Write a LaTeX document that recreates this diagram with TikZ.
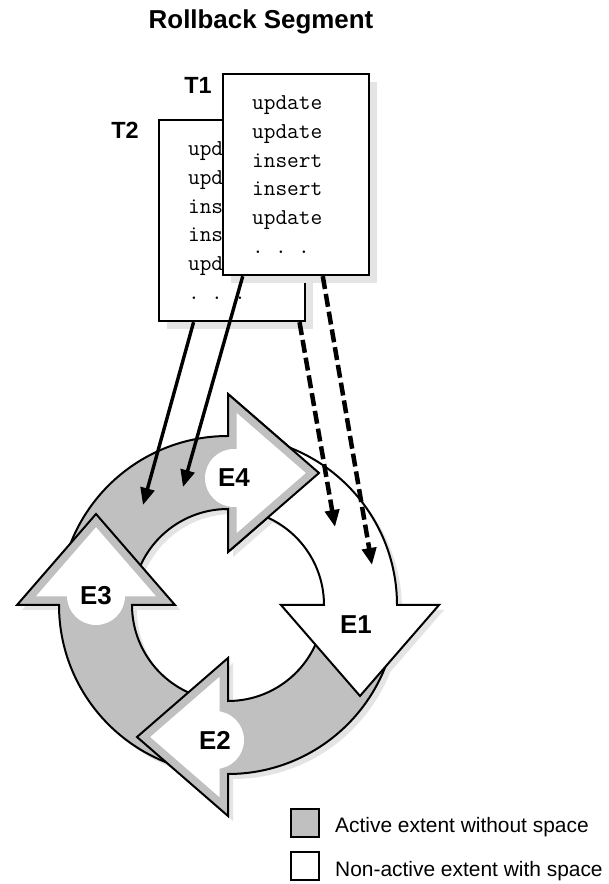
\documentclass[tikz,border=0pt]{standalone}
\usepackage{fontspec}
\setmainfont{Liberation Sans}
\usetikzlibrary{arrows.meta,shadows,calc}
\definecolor{bandgray}{HTML}{C0C0C0}
\definecolor{shadowgray}{HTML}{E4E4E4}
\def\ringRo{169}
\def\ringRi{96}
\def\ringRm{132}
\def\ringHo{211}
\def\ringHi{53}
\def\ringL{91}
\begin{document}
\begin{tikzpicture}[x=1bp,y=1bp,
  extentp/.style={insert path={(#1+85:\ringRo) arc[start angle=#1+85,end angle=#1,radius=\ringRo] -- (#1:\ringHo) -- ({\ringRm*cos(#1)+\ringL*sin(#1)},{\ringRm*sin(#1)-\ringL*cos(#1)}) -- (#1:\ringHi) -- (#1:\ringRi) arc[start angle=#1,end angle=#1+85,radius=\ringRi] -- cycle}},
  headp/.style={insert path={(#1:\ringHo) -- ({\ringRm*cos(#1)+\ringL*sin(#1)},{\ringRm*sin(#1)-\ringL*cos(#1)}) -- (#1:\ringHi) -- cycle}},
  outl/.style={draw=black,line width=2bp,line join=miter,miter limit=20},
  headborder/.style={draw=bandgray,line width=17bp,fill=white},
  elabel/.style={font=\fontsize{26}{30}\selectfont\bfseries,inner sep=0pt},
  tlabel/.style={font=\fontsize{23.5}{27}\selectfont\bfseries,inner sep=0pt},
  tbox/.style={draw=black,line width=2.2bp,fill=white,anchor=north west,
    minimum height=201bp,text width=88bp,inner xsep=29bp,inner ysep=0pt,align=left,
    font=\fontsize{22.8}{29}\selectfont\ttfamily,
    drop shadow={shadow xshift=8bp,shadow yshift=-8bp,fill=shadowgray,opacity=1}},
  legbox/.style={draw=black,line width=2.5bp,minimum size=28bp,inner sep=0pt},
  legtext/.style={font=\fontsize{21}{25}\selectfont,inner sep=0pt,anchor=base west},
  solidc/.style={line width=3.4bp,-{Triangle[length=17bp,width=14bp]}},
  dashc/.style={line width=4.5bp,dash pattern=on 13bp off 5bp,-{Triangle[length=17bp,width=14bp]}}
]
\useasboundingbox (0,0) rectangle (609,884);
\fill[white] (0,0) rectangle (609,884);

% title
\node[font=\fontsize{26}{30}\selectfont\bfseries,anchor=base,inner sep=0pt] (title) at (261,855) {Rollback Segment};

% transaction boxes
\node[tbox] (t2) at (158,765) {update\\update\\insert\\insert\\update\\. . .};
\node[tbox] (t1) at (222,811) {update\\update\\insert\\insert\\update\\. . .};
\node[tlabel] (t1lab) at (198,799) {T1};
\node[tlabel] (t2lab) at (125,754) {T2};

% ring of extents
\begin{scope}[shift={(228,279)}]
  \coordinate (ringc) at (0,0);
  \begin{scope}[shift={(5,-5)}]
    \foreach \a in {90,0,-90,180} \fill[shadowgray,extentp=\a];
  \end{scope}
  % E4
  \fill[bandgray,extentp=90];
  \begin{scope}\clip[headp=90]; \path[headborder,headp=90];\end{scope}
  \fill[white] (6,127) circle[radius=29];
  \draw[outl,extentp=90];
  % E3
  \fill[bandgray,extentp=180];
  \begin{scope}\clip[headp=180]; \path[headborder,headp=180];\end{scope}
  \fill[white] (-132,9) circle[radius=29];
  \draw[outl,extentp=180];
  % E2
  \fill[bandgray,extentp=-90];
  \begin{scope}\clip[headp=-90]; \path[headborder,headp=-90];\end{scope}
  \fill[white] (-13,-135) circle[radius=29];
  \draw[outl,extentp=-90];
  % E1
  \fill[white,extentp=0];
  \draw[outl,extentp=0];
  % E4 head again, over the start of E1
  \begin{scope}
    \clip (-3,45) rectangle (110,215);
    \fill[bandgray,extentp=90];
    \begin{scope}\clip[headp=90]; \path[headborder,headp=90];\end{scope}
    \fill[white] (6,127) circle[radius=29];
    \draw[outl,extentp=90];
  \end{scope}
\end{scope}

\node[elabel] (e4) at (234,406) {E4};
\node[elabel] (e3) at (96,288) {E3};
\node[elabel] (e2) at (215,144) {E2};
\node[elabel] (e1) at (356,259) {E1};

% connectors
\coordinate (s1) at (143,379);
\coordinate (s2) at (183,397);
\coordinate (d1) at (335,357);
\coordinate (d2) at (372,319);
\draw[solidc] ($(t2.south west)!0.24!(t2.south east)$) -- (s1);
\draw[solidc] ($(t1.south west)!0.14!(t1.south east)$) -- (s2);
\draw[dashc] ($(t2.south west)!0.955!(t2.south east)$) -- (d1);
\draw[dashc] ($(t1.south west)!0.68!(t1.south east)$) -- (d2);

% legend
\node[legbox,fill=bandgray] (lg1) at (305,61) {};
\node[legbox,fill=white] (lg2) at (305,18) {};
\node[legtext] (lt1) at (335,51) {Active extent without space};
\node[legtext] (lt2) at (335,7) {Non-active extent with space};
\end{tikzpicture}
\end{document}
